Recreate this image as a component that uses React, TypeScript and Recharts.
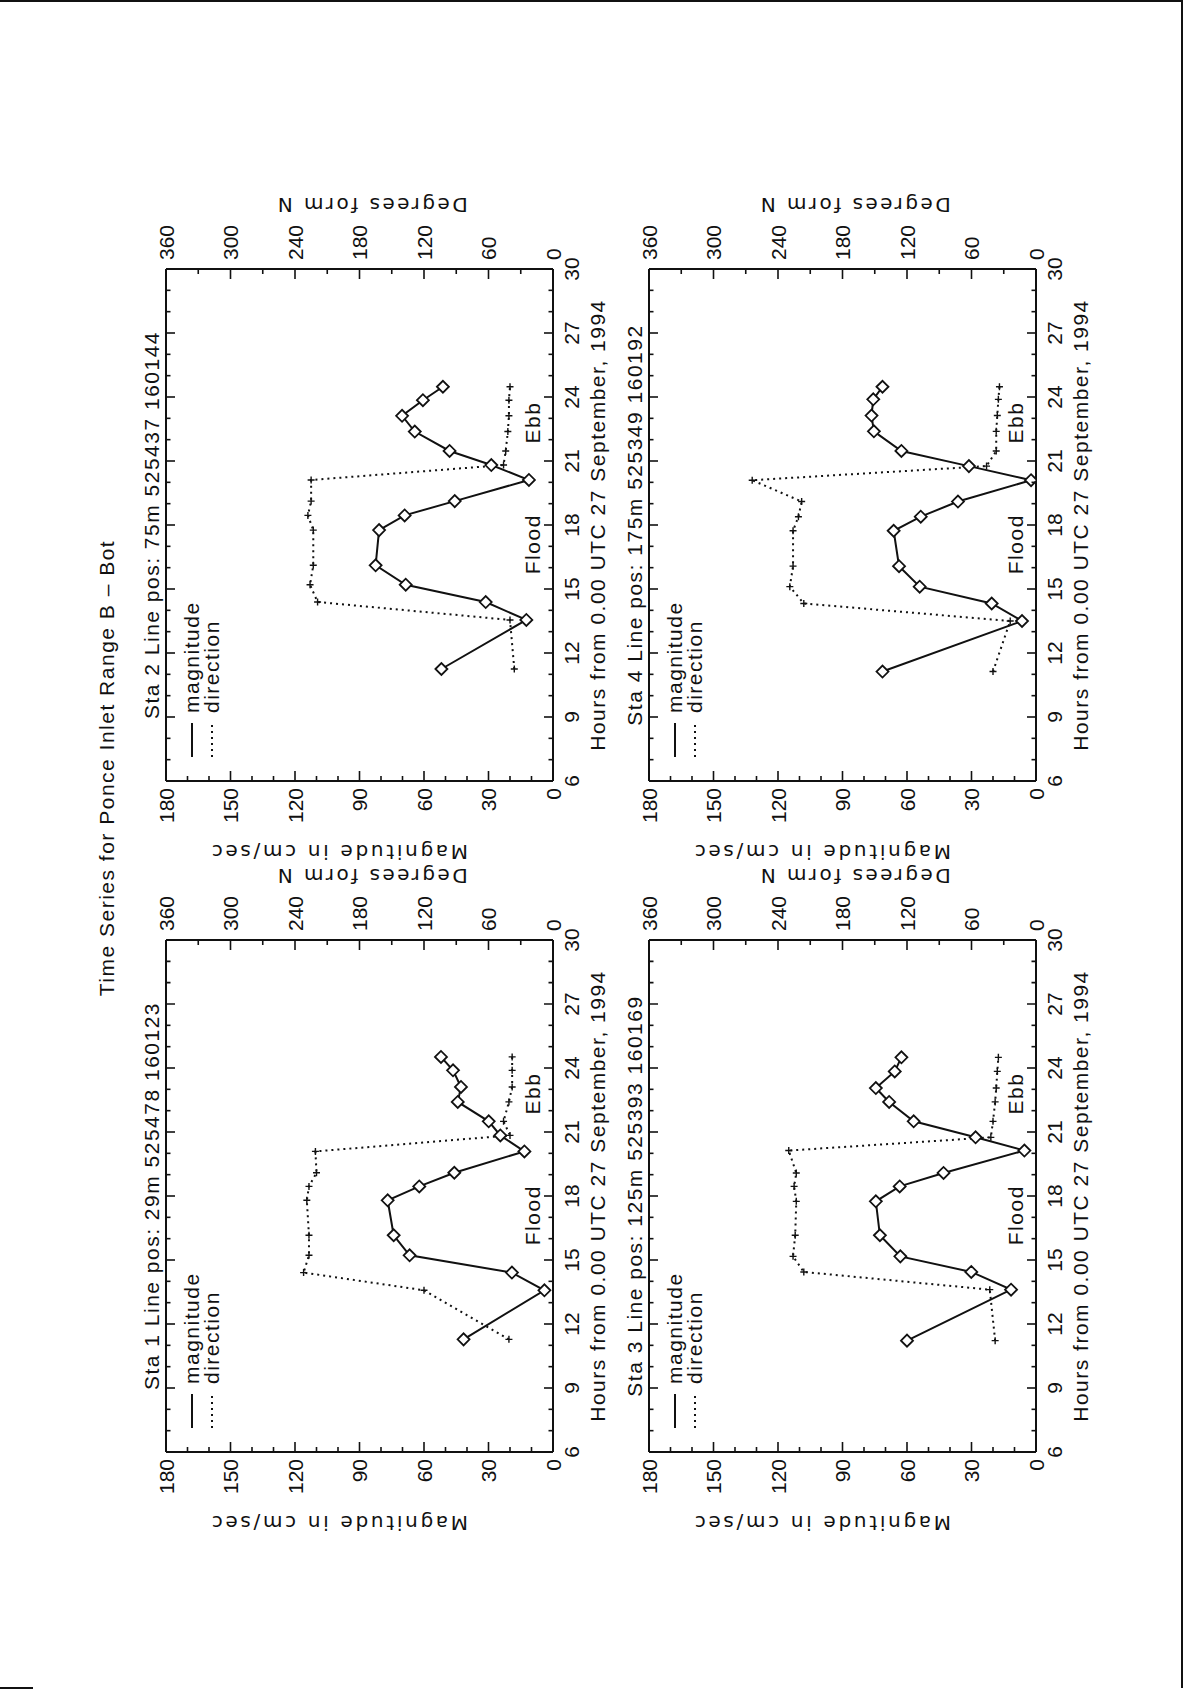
import React from 'react';
import { LineChart, Line, XAxis, YAxis, Legend, ReferenceDot, ReferenceLine } from 'recharts';

// hours from 0.00 UTC 27 Sep 1994, magnitude (cm/sec), direction (deg from N)
const sta1Hours = [11.28, 13.58, 14.41, 15.22, 16.16, 17.8, 18.45, 19.09, 20.09, 20.84, 21.5, 22.41, 23.11, 23.89, 24.52];
const sta1Mag = [41.6, 4.0, 19.1, 66.7, 74.1, 76.9, 62.2, 45.9, 13.3, 24.5, 29.9, 44.3, 42.8, 46.5, 52.1];
const sta1Dir = [41, 120, 232, 227, 227, 229, 227, 220, 221, 40, 46, 41, 38, 38, 38];

const sta2Hours = [11.25, 13.55, 14.39, 15.2, 16.11, 17.76, 18.45, 19.12, 20.11, 20.81, 21.47, 22.38, 23.12, 23.85, 24.48];
const sta2Mag = [51.9, 12.4, 31.3, 68.5, 82.5, 80.9, 69.0, 45.7, 11.2, 28.7, 48.1, 64.3, 70.2, 60.5, 51.2];
const sta2Dir = [36, 40, 219, 226, 223, 223, 228, 225, 225, 46, 44, 42, 41, 41, 40];

const sta3Hours = [11.22, 13.61, 14.44, 15.17, 16.16, 17.75, 18.45, 19.08, 20.13, 20.75, 21.5, 22.41, 23.06, 23.84, 24.5];
const sta3Mag = [60.0, 11.6, 30.1, 63.1, 72.6, 74.5, 63.4, 43.0, 5.4, 28.1, 56.9, 68.3, 74.5, 65.7, 62.6];
const sta3Dir = [38, 43, 216, 226, 224, 223, 225, 223, 230, 42, 40, 38, 37, 36, 35];

const sta4Hours = [11.13, 13.5, 14.32, 15.11, 16.07, 17.73, 18.39, 19.1, 20.1, 20.76, 21.47, 22.39, 23.13, 23.89, 24.48];
const sta4Mag = [71.4, 6.5, 20.6, 54.1, 63.7, 66.2, 53.6, 36.3, 2.3, 31.2, 62.6, 75.4, 76.5, 75.7, 71.4];
const sta4Dir = [40, 24, 216, 229, 226, 226, 221, 218, 264, 46, 37, 37, 36, 35, 34];

const stationTitles = [
  'Sta 1 Line pos: 29m 525478 160123',
  'Sta 2 Line pos: 75m 525437 160144',
  'Sta 3 Line pos: 125m 525393 160169',
  'Sta 4 Line pos: 175m 525349 160192',
];

const hourTicks = [6, 7, 8, 9, 10, 11, 12, 13, 14, 15, 16, 17, 18, 19, 20, 21, 22, 23, 24, 25, 26, 27, 28, 29, 30];
const magTicks = [0, 10, 20, 30, 40, 50, 60, 70, 80, 90, 100, 110, 120, 130, 140, 150, 160, 170, 180];
const degTicks = [0, 30, 60, 90, 120, 150, 180, 210, 240, 270, 300, 330, 360];

const tideLabels = [
  { text: 'Flood', hour: 17.1, mag: 9.5 },
  { text: 'Ebb', hour: 22.8, mag: 9.5 },
];

const INK = '#111';
const FONT = '"Liberation Sans", Arial, sans-serif';
const WIDE_FONT = '"DejaVu Sans", sans-serif';
const TEXT = { fill: INK, fontFamily: FONT, fontSize: 21, letterSpacing: 1.5 };

const DOTTED = '2 4';
const seriesDash: Record<string, string | undefined> = { magnitude: undefined, direction: DOTTED };
const legendOrder = ['magnitude', 'direction'];

// plot box is 512 x 387, sitting at (94, 90) inside each 700 x 560 chart
const CHART_W = 700;
const CHART_H = 560;
const PLOT_H = 387;
const X_H = 60;
const Y_W = 80;
const MARGIN = { top: 90, right: 94 - Y_W, bottom: 83 - X_H, left: 94 - Y_W };
const PLOT_LEFT = 94;
const PLOT_TOP = 90;

// panel placement in the landscape page (before it is turned)
const panelPos = [
  { left: 154, top: 76 },
  { left: 825, top: 76 },
  { left: 154, top: 559 },
  { left: 825, top: 559 },
];

// hour ticks go on both the bottom and the top edge of the frame
const HourTick = (props: any) => {
  const { x, y, payload } = props;
  const v = Number(payload.value);
  const major = v % 3 === 0;
  const len = major ? 9 : 4.5;
  const top = y - PLOT_H;
  return (
    <g>
      <line x1={x} x2={x} y1={y} y2={y - len} stroke={INK} strokeWidth={1.6} />
      <line x1={x} x2={x} y1={top} y2={top + len} stroke={INK} strokeWidth={1.6} />
      {major && (
        <text x={x} y={y + 26} textAnchor="middle" fill={INK} fontFamily={FONT} fontSize={21}>
          {v}
        </text>
      )}
    </g>
  );
};

const MagTick = (props: any) => {
  const { x, y, payload } = props;
  const v = Number(payload.value);
  const major = v % 30 === 0;
  return (
    <g>
      <line x1={x} x2={x + (major ? 10 : 5)} y1={y} y2={y} stroke={INK} strokeWidth={1.6} />
      {major && (
        <text x={x - 7} y={y + 7.5} textAnchor="end" fill={INK} fontFamily={FONT} fontSize={21}>
          {v}
        </text>
      )}
    </g>
  );
};

const DegTick = (props: any) => {
  const { x, y, payload } = props;
  const v = Number(payload.value);
  const major = v % 60 === 0;
  return (
    <g>
      <line x1={x} x2={x - (major ? 10 : 5)} y1={y} y2={y} stroke={INK} strokeWidth={1.6} />
      {major && (
        <text x={x + 9} y={y + 7.5} textAnchor="start" fill={INK} fontFamily={FONT} fontSize={21}>
          {v}
        </text>
      )}
    </g>
  );
};

const Diamond = (props: any) => {
  const { cx, cy } = props;
  if (cx == null || cy == null) return <g />;
  const s = 6;
  return (
    <path
      d={`M${cx},${cy - s}L${cx + s},${cy}L${cx},${cy + s}L${cx - s},${cy}Z`}
      fill="#fff"
      stroke={INK}
      strokeWidth={1.8}
    />
  );
};

const PlusDot = (props: any) => {
  const { cx, cy } = props;
  if (cx == null || cy == null) return <g />;
  const s = 3.5;
  return (
    <path d={`M${cx - s},${cy}H${cx + s}M${cx},${cy - s}V${cy + s}`} stroke={INK} strokeWidth={1.4} fill="none" />
  );
};

const PanelLegend = (props: any) => {
  const items = [...(props.payload || [])].sort(
    (a: any, b: any) => legendOrder.indexOf(a.value) - legendOrder.indexOf(b.value)
  );
  return (
    <svg width={180} height={54} style={{ display: 'block', overflow: 'visible' }}>
      {items.map((e: any, i: number) => (
        <g key={e.value}>
          <line
            x1={0}
            x2={34}
            y1={12 + i * 20}
            y2={12 + i * 20}
            stroke={INK}
            strokeWidth={2}
            strokeDasharray={seriesDash[e.value]}
          />
          <text x={44} y={19 + i * 20} {...TEXT}>
            {e.value}
          </text>
        </g>
      ))}
    </svg>
  );
};

const StationPanel = ({ title, hours, mag, dir }: { title: string; hours: number[]; mag: number[]; dir: number[] }) => {
  const rows = hours.map((h, i) => ({ hour: h, mag: mag[i], dir: dir[i] }));
  return (
    <LineChart width={CHART_W} height={CHART_H} data={rows} margin={MARGIN}>
      <XAxis
        xAxisId="h"
        dataKey="hour"
        type="number"
        domain={[6, 30]}
        ticks={hourTicks}
        interval={0}
        height={X_H}
        tickSize={0}
        tickMargin={0}
        tickLine={false}
        axisLine={{ stroke: INK, strokeWidth: 2 }}
        tick={(p: any) => <HourTick {...p} />}
        allowDataOverflow
        label={{ value: 'Hours from 0.00 UTC 27 September, 1994', position: 'center', dy: 15, ...TEXT }}
      />
      <YAxis
        yAxisId="mag"
        type="number"
        domain={[0, 180]}
        ticks={magTicks}
        interval={0}
        width={Y_W}
        tickSize={0}
        tickMargin={0}
        tickLine={false}
        axisLine={{ stroke: INK, strokeWidth: 2 }}
        tick={(p: any) => <MagTick {...p} />}
        allowDataOverflow
        label={{
          value: 'Magnitude in cm/sec',
          position: 'center',
          angle: -90,
          dx: -31,
          dy: -21,
          fill: INK,
          fontFamily: WIDE_FONT,
          fontSize: 20,
          letterSpacing: 2.7,
        }}
      />
      <YAxis
        yAxisId="deg"
        orientation="right"
        type="number"
        domain={[0, 360]}
        ticks={degTicks}
        interval={0}
        width={Y_W}
        tickSize={0}
        tickMargin={0}
        tickLine={false}
        axisLine={{ stroke: INK, strokeWidth: 2 }}
        tick={(p: any) => <DegTick {...p} />}
        allowDataOverflow
        label={{
          value: 'Degrees form N',
          position: 'center',
          angle: -90,
          dx: 24,
          dy: 12,
          fill: INK,
          fontFamily: WIDE_FONT,
          fontSize: 20,
          letterSpacing: 2.5,
        }}
      />
      {/* top edge of the frame, carrying the station title */}
      <ReferenceLine
        xAxisId="h"
        yAxisId="mag"
        y={180}
        stroke={INK}
        strokeWidth={2}
        label={{ value: title, position: 'top', offset: 7, ...TEXT }}
      />
      <Legend
        layout="vertical"
        align="center"
        verticalAlign="middle"
        wrapperStyle={{ left: PLOT_LEFT + 24, top: PLOT_TOP + 14, width: 180 }}
        content={(p: any) => <PanelLegend {...p} />}
      />
      <Line
        xAxisId="h"
        yAxisId="mag"
        type="linear"
        dataKey="mag"
        name="magnitude"
        stroke={INK}
        strokeWidth={2}
        dot={(p: any) => <Diamond key={`m${p.index}`} {...p} />}
        legendType="line"
        isAnimationActive={false}
      />
      <Line
        xAxisId="h"
        yAxisId="deg"
        type="linear"
        dataKey="dir"
        name="direction"
        stroke={INK}
        strokeWidth={2}
        strokeDasharray={DOTTED}
        dot={(p: any) => <PlusDot key={`d${p.index}`} {...p} />}
        legendType="line"
        isAnimationActive={false}
      />
      {tideLabels.map((t) => (
        <ReferenceDot
          key={t.text}
          xAxisId="h"
          yAxisId="mag"
          x={t.hour}
          y={t.mag}
          r={0}
          fill="none"
          stroke="none"
          label={{ value: t.text, position: 'center', ...TEXT }}
        />
      ))}
    </LineChart>
  );
};

const panels = [
  { hours: sta1Hours, mag: sta1Mag, dir: sta1Dir },
  { hours: sta2Hours, mag: sta2Mag, dir: sta2Dir },
  { hours: sta3Hours, mag: sta3Mag, dir: sta3Dir },
  { hours: sta4Hours, mag: sta4Mag, dir: sta4Dir },
];

export default function App() {
  return (
    <div
      style={{
        position: 'absolute',
        left: 0,
        top: 0,
        width: 1185,
        height: 1700,
        background: '#fff',
        overflow: 'hidden',
      }}
    >
      {/* scanned page edge */}
      <div
        style={{
          position: 'absolute',
          left: 0,
          top: 0,
          width: 1183,
          height: 1688,
          borderTop: `2px solid ${INK}`,
          borderRight: `2px solid ${INK}`,
          boxSizing: 'border-box',
        }}
      />
      <div style={{ position: 'absolute', left: 0, top: 1687, width: 33, height: 2, background: INK }} />

      {/* the figure is printed landscape, turned a quarter to the left */}
      <div
        style={{
          position: 'absolute',
          left: 0,
          top: 0,
          width: 1700,
          height: 1185,
          transformOrigin: '0 0',
          transform: 'translateY(1700px) rotate(-90deg)',
        }}
      >
        <div
          style={{
            position: 'absolute',
            left: 932 - 350,
            top: 94,
            width: 700,
            textAlign: 'center',
            fontFamily: FONT,
            fontSize: 21,
            letterSpacing: 1.5,
            lineHeight: '26px',
            color: INK,
          }}
        >
          Time Series for Ponce Inlet Range B – Bot
        </div>
        {panels.map((p, i) => (
          <div key={i} style={{ position: 'absolute', left: panelPos[i].left, top: panelPos[i].top }}>
            <StationPanel title={stationTitles[i]} hours={p.hours} mag={p.mag} dir={p.dir} />
          </div>
        ))}
      </div>
    </div>
  );
}
